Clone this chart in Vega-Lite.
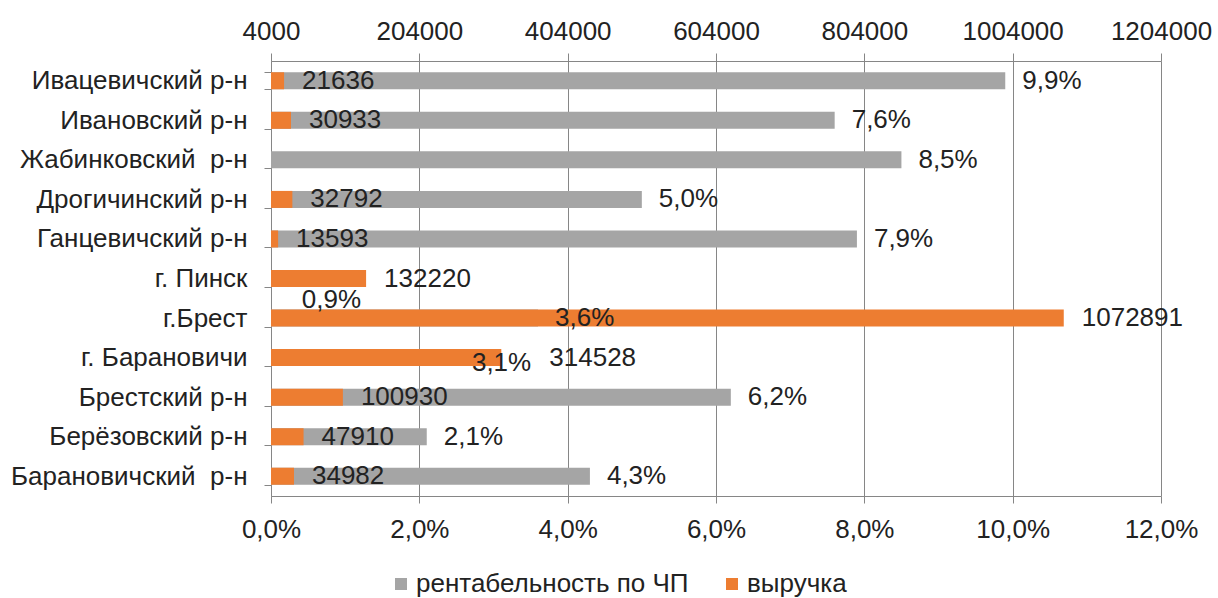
{
  "$schema": "https://vega.github.io/schema/vega-lite/v6.json",
  "autosize": "none",
  "width": 890,
  "height": 435,
  "padding": {"left": 271, "top": 61, "right": 57, "bottom": 102},
  "background": "white",
  "config": {
    "locale": {"number": {"decimal": ",", "thousands": " ", "grouping": [3], "currency": ["", ""]}},
    "font": "Liberation Sans",
    "view": {"stroke": null},
    "axis": {"labelFont": "Liberation Sans", "labelFontSize": 26, "labelColor": "#222222", "domainColor": "#868686", "tickColor": "#868686", "gridColor": "#868686", "title": null, "labelFlush": false, "labelOverlap": false},
    "legend": {"labelFont": "Liberation Sans", "labelFontSize": 26, "labelColor": "#222222", "labelLimit": 600}
  },
  "data": {
    "values": [
      {"region": "Ивацевичский р-н", "rent": 0.099, "rev": 21636},
      {"region": "Ивановский р-н", "rent": 0.076, "rev": 30933},
      {"region": "Жабинковский\u00a0 р-н", "rent": 0.085, "rev": null},
      {"region": "Дрогичинский р-н", "rent": 0.050, "rev": 32792},
      {"region": "Ганцевичский р-н", "rent": 0.079, "rev": 13593},
      {"region": "г. Пинск", "rent": 0.009, "rev": 132220},
      {"region": "г.Брест", "rent": 0.036, "rev": 1072891},
      {"region": "г. Барановичи", "rent": 0.031, "rev": 314528},
      {"region": "Брестский р-н", "rent": 0.062, "rev": 100930},
      {"region": "Берёзовский р-н", "rent": 0.021, "rev": 47910},
      {"region": "Барановичский\u00a0 р-н", "rent": 0.043, "rev": 34982}
    ]
  },
  "encoding": {
    "y": {
      "field": "region", "type": "nominal", "sort": null,
      "scale": {"paddingInner": 0.57, "paddingOuter": 0.285},
      "axis": {"tickBand": "extent", "tickSize": 7, "labelPadding": 17, "labelLimit": 400, "domainColor": "#868686"}
    }
  },
  "layer": [
    {
      "mark": {"type": "bar", "color": "#A5A5A5"},
      "encoding": {
        "x": {"field": "rent", "type": "quantitative",
          "scale": {"domain": [0, 0.12], "nice": false, "zero": true},
          "axis": {"orient": "bottom", "values": [0, 0.02, 0.04, 0.06, 0.08, 0.1, 0.12], "format": ".1%", "grid": true, "tickSize": 7, "labelPadding": 13}},
        "color": {"datum": "рентабельность по ЧП", "type": "nominal",
          "scale": {"domain": ["рентабельность по ЧП", "выручка"], "range": ["#A5A5A5", "#ED7D31"]},
          "legend": {"orient": "none", "legendX": 117, "legendY": 510, "direction": "horizontal", "title": null, "symbolType": "square", "symbolSize": 144, "symbolStrokeWidth": 0, "labelOffset": 2, "columnPadding": 30, "padding": 0}}
      }
    },
    {
      "mark": {"type": "bar", "color": "#ED7D31"},
      "encoding": {
        "x": {"field": "rev", "type": "quantitative",
          "scale": {"domain": [4000, 1204000], "nice": false, "zero": false},
          "axis": {"orient": "top", "values": [4000, 204000, 404000, 604000, 804000, 1004000, 1204000], "format": "d", "grid": false, "tickSize": 8, "labelPadding": 9}},
        "x2": {"datum": 4000},
        "color": {"datum": "выручка", "type": "nominal"}
      }
    },
    {
      "transform": [{"filter": "datum.region !== 'г. Барановичи'"}],
      "mark": {"type": "text", "align": "left", "baseline": "middle", "dx": 18, "fontSize": 26, "color": "#222222"},
      "encoding": {
        "x": {"field": "rev", "type": "quantitative", "scale": {"domain": [4000, 1204000], "nice": false, "zero": false}, "axis": null},
        "text": {"field": "rev", "type": "quantitative", "format": "d"}
      }
    },
    {
      "transform": [{"filter": "datum.region === 'г. Барановичи'"}],
      "mark": {"type": "text", "align": "left", "baseline": "middle", "dx": 48, "fontSize": 26, "color": "#222222"},
      "encoding": {
        "x": {"field": "rev", "type": "quantitative", "scale": {"domain": [4000, 1204000], "nice": false, "zero": false}, "axis": null},
        "text": {"field": "rev", "type": "quantitative", "format": "d"}
      }
    },
    {
      "transform": [{"filter": "datum.region !== 'г. Барановичи' && datum.region !== 'г. Пинск'"}],
      "mark": {"type": "text", "align": "left", "baseline": "middle", "dx": 17, "fontSize": 26, "color": "#222222"},
      "encoding": {
        "x": {"field": "rent", "type": "quantitative", "scale": {"domain": [0, 0.12], "nice": false, "zero": true}, "axis": null},
        "text": {"field": "rent", "type": "quantitative", "format": ".1%"}
      }
    },
    {
      "transform": [{"filter": "datum.region === 'г. Пинск'"}],
      "mark": {"type": "text", "align": "left", "baseline": "middle", "dx": -36, "dy": 21, "fontSize": 26, "color": "#222222"},
      "encoding": {
        "x": {"field": "rent", "type": "quantitative", "scale": {"domain": [0, 0.12], "nice": false, "zero": true}, "axis": null},
        "text": {"field": "rent", "type": "quantitative", "format": ".1%"}
      }
    },
    {
      "transform": [{"filter": "datum.region === 'г. Барановичи'"}],
      "mark": {"type": "text", "align": "left", "baseline": "middle", "dx": -29, "dy": 5, "fontSize": 26, "color": "#222222"},
      "encoding": {
        "x": {"field": "rent", "type": "quantitative", "scale": {"domain": [0, 0.12], "nice": false, "zero": true}, "axis": null},
        "text": {"field": "rent", "type": "quantitative", "format": ".1%"}
      }
    }
  ],
  "resolve": {"scale": {"x": "independent"}, "axis": {"x": "independent"}}
}
